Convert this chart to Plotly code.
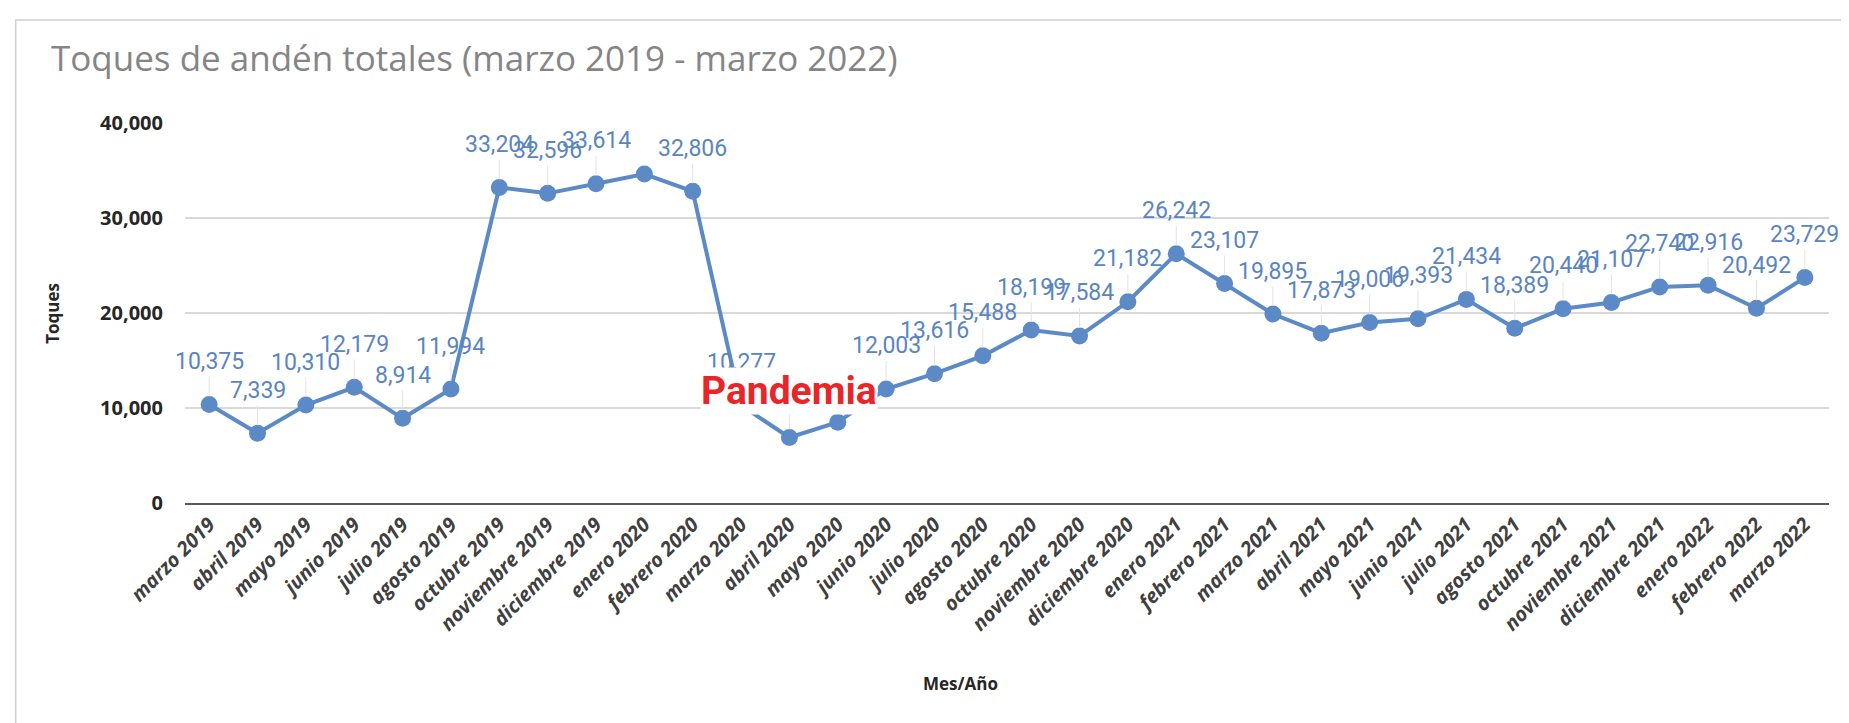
import plotly.graph_objects as go

meses = ["marzo 2019", "abril 2019", "mayo 2019", "junio 2019", "julio 2019",
         "agosto 2019", "octubre 2019", "noviembre 2019", "diciembre 2019",
         "enero 2020", "febrero 2020", "marzo 2020", "abril 2020", "mayo 2020",
         "junio 2020", "julio 2020", "agosto 2020", "octubre 2020",
         "noviembre 2020", "diciembre 2020", "enero 2021", "febrero 2021",
         "marzo 2021", "abril 2021", "mayo 2021", "junio 2021", "julio 2021",
         "agosto 2021", "octubre 2021", "noviembre 2021", "diciembre 2021",
         "enero 2022", "febrero 2022", "marzo 2022"]

toques = [10375, 7339, 10310, 12179, 8914, 11994, 33204, 32596, 33614,
          34620, 32806, 10277, 6900, 8510, 12003, 13616, 15488, 18199,
          17584, 21182, 26242, 23107, 19895, 17873, 19006, 19393, 21434,
          18389, 20440, 21107, 22740, 22916, 20492, 23729]

# etiqueta que no aparece en el original
sin_etiqueta = ["enero 2020"]

azul = "#5b8ac7"

fig = go.Figure()
fig.add_trace(go.Scatter(
    x=meses, y=toques, mode="lines+markers",
    line=dict(color=azul, width=4),
    marker=dict(color=azul, size=17),
    hoverinfo="x+y", showlegend=False,
))

# etiquetas de datos con linea guia, como en Excel
for mes, v in zip(meses, toques):
    if mes in sin_etiqueta:
        continue
    fig.add_annotation(
        x=mes, y=v, text=f"{v:,}",
        showarrow=True, arrowhead=0, arrowwidth=1, arrowcolor="#e3e3e3",
        ax=0, ay=-43, standoff=8,
        font=dict(family="Roboto", size=23, color="#5a85bf"),
    )

fig.add_annotation(
    x="abril 2020", y=11800, text="<b>Pandemia</b>", showarrow=False,
    bgcolor="white", borderpad=0,
    font=dict(family="Roboto", size=39, color="#e8262a"),
)

# titulos de ejes
fig.add_annotation(
    xref="paper", yref="paper", x=0.472, y=-0.475, text="Mes/Año",
    xanchor="center", yanchor="middle", showarrow=False,
    font=dict(family="Open Sans", size=17, color="#262626", weight="bold"),
)
fig.add_annotation(
    xref="paper", yref="paper", x=-0.081, y=0.5, text="Toques", textangle=-90,
    xanchor="center", yanchor="middle", showarrow=False,
    font=dict(family="Open Sans", size=17, color="#262626", weight="bold"),
)

# marco del grafico
fig.add_shape(type="rect", xref="paper", yref="paper",
              x0=-0.103, x1=1.0115, y0=-0.584, y1=1.271,
              line=dict(color="#d0d0d0", width=1.5), layer="below")

fig.update_layout(
    width=1849, height=723,
    margin=dict(l=177, r=28, t=115, b=228),
    paper_bgcolor="white", plot_bgcolor="white",
    title=dict(text="Toques de andén totales (marzo 2019 - marzo 2022)",
               x=43 / 1849, xref="container", xanchor="left",
               y=1 - 51 / 723, yanchor="middle",
               font=dict(family="Open Sans", size=35, color="#858585")),
    xaxis=dict(type="category", tickangle=-45, showgrid=False,
               showline=True, linecolor="#595959", linewidth=2,
               ticks="", range=[-0.5, len(meses) - 0.5],
               tickfont=dict(family="Open Sans", size=20, color="#404040",
                             weight="bold", style="italic")),
    yaxis=dict(range=[0, 40000], dtick=10000, tickformat=",",
               gridcolor="#d9d9d9", gridwidth=1.5, zeroline=False, showline=False,
               ticks="outside", ticklen=17, tickcolor="rgba(0,0,0,0)",
               tickfont=dict(family="Open Sans", size=20, color="#262626", weight="bold")),
)

fig.write_html("out.html")
